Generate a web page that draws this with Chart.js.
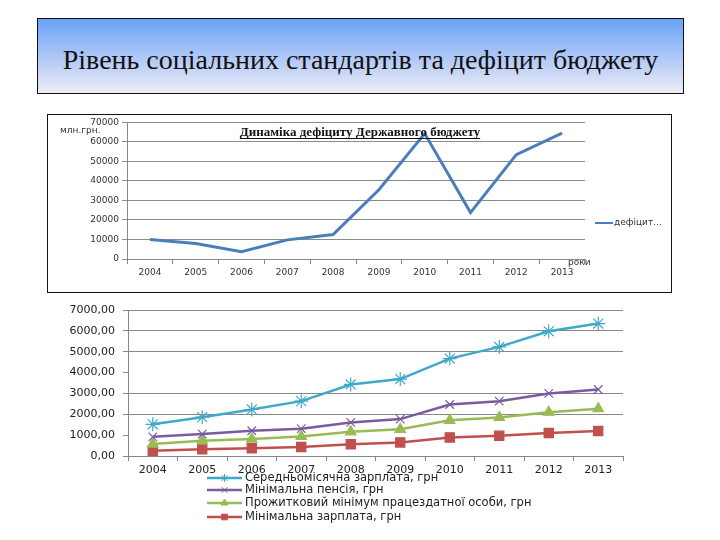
<!DOCTYPE html>
<html>
<head>
<meta charset="utf-8">
<script src="https://cdn.jsdelivr.net/npm/chart.js@4.4.1/dist/chart.umd.min.js"></script>
<style>
  body { margin: 0; width: 720px; height: 540px; background: #fff; position: relative; overflow: hidden; }
  #head {
    position: absolute; left: 37px; top: 18px; width: 647px; height: 76px; box-sizing: border-box;
    border: 1.5px solid #111; background: linear-gradient(#69a2f6, #efebf6);
    display: flex; align-items: center; justify-content: center; padding-top: 8px;
    font-family: "Liberation Serif", serif; font-size: 28px; color: #111;
  }
  #box1 { position: absolute; left: 47px; top: 114px; width: 625px; height: 179px; box-sizing: border-box; border: 1.5px solid #111; }
  #c1 { position: absolute; left: 47px; top: 114px; }
  #c2 { position: absolute; left: 30px; top: 295px; }
</style>
</head>
<body>
<div id="head">Рівень соціальних стандартів та дефіцит бюджету</div>
<div id="box1"></div>
<canvas id="c1" width="625" height="179"></canvas>
<canvas id="c2" width="640" height="245"></canvas>
<script>
const years = ["2004", "2005", "2006", "2007", "2008", "2009", "2010", "2011", "2012", "2013"];

// upper chart: deficit, mln UAH
const deficit = [10000, 7900, 3700, 9800, 12500, 35500, 64300, 23800, 53500, 64500];
const deficitLabel = "дефіцит...";
const chart1Title = "Динаміка дефіциту Державного бюджету";
const unitLabel = "млн.грн.";
const xUnitLabel = "роки";

// lower chart: social standards, UAH
const avgWage = [1520, 1860, 2230, 2630, 3430, 3690, 4670, 5230, 5980, 6350];
const minPension = [920, 1050, 1210, 1310, 1610, 1770, 2470, 2630, 3000, 3190];
const subsistence = [570, 730, 810, 940, 1160, 1280, 1710, 1850, 2100, 2270];
const minWage = [250, 320, 370, 430, 560, 650, 890, 970, 1100, 1200];
const seriesNames = [
  "Середньомісячна зарплата, грн",
  "Мінімальна пенсія, грн",
  "Прожитковий мінімум працездатної особи, грн",
  "Мінімальна зарплата, грн"
];

const c1 = document.getElementById("c1").getContext("2d");
const c2 = document.getElementById("c2").getContext("2d");

const deco1 = {
  id: "deco1",
  afterDraw(chart) {
    const ctx = chart.ctx;
    ctx.save();
    ctx.fillStyle = "#111";
    ctx.font = 'bold 13px "Liberation Serif"';
    ctx.textAlign = "center";
    ctx.textBaseline = "alphabetic";
    ctx.fillText(chart1Title, 313, 22);
    const w = ctx.measureText(chart1Title).width;
    ctx.fillRect(313 - w / 2, 24, w, 1);

    ctx.font = '9px "DejaVu Sans"';
    ctx.textAlign = "left";
    ctx.textBaseline = "middle";
    ctx.fillStyle = "#333";
    ctx.fillText(unitLabel, 13, 17);
    ctx.fillText(xUnitLabel, 521, 149);

    // legend
    const ds = chart.data.datasets[0];
    ctx.strokeStyle = ds.borderColor;
    ctx.lineWidth = 2;
    ctx.beginPath();
    ctx.moveTo(548, 109);
    ctx.lineTo(566, 109);
    ctx.stroke();
    ctx.fillText(ds.label, 567, 109);
    ctx.restore();
  }
};

new Chart(c1, {
  type: "line",
  data: {
    labels: years,
    datasets: [{
      label: deficitLabel,
      data: deficit,
      borderColor: "#4a7ebb",
      borderWidth: 3,
      pointRadius: 0,
      tension: 0
    }]
  },
  options: {
    responsive: false,
    animation: false,
    layout: { padding: { left: 0, right: 87, top: 8, bottom: 0 } },
    plugins: { legend: { display: false }, tooltip: { enabled: false } },
    scales: {
      x: {
        offset: true,
        afterFit: s => { s.height = 34; },
        grid: { offset: true, drawOnChartArea: false, tickLength: 5, color: "#888" },
        border: { color: "#888" },
        ticks: { color: "#333", font: { family: "DejaVu Sans", size: 9 }, padding: 3, maxRotation: 0 }
      },
      y: {
        min: 0, max: 70000,
        afterFit: s => { s.width = 80; },
        ticks: { stepSize: 10000, color: "#333", font: { family: "DejaVu Sans", size: 9 }, padding: 3, callback: v => String(v) },
        grid: { color: "#8a8a8a", tickLength: 5 },
        border: { color: "#888" }
      }
    }
  },
  plugins: [deco1]
});

const legend2 = {
  id: "legend2",
  afterDraw(chart) {
    const ctx = chart.ctx;
    const rows = [183, 195, 208, 222];
    ctx.save();
    chart.data.datasets.forEach((ds, i) => {
      const y = rows[i];
      ctx.strokeStyle = ds.borderColor;
      ctx.fillStyle = ds.borderColor;
      ctx.lineWidth = 2.5;
      ctx.beginPath();
      ctx.moveTo(177, y);
      ctx.lineTo(212, y);
      ctx.stroke();
      ctx.lineWidth = 1;
      Chart.helpers.drawPoint(ctx, { pointStyle: ds.pointStyle, radius: 4, rotation: 0, borderWidth: 1 }, 194.5, y);
      ctx.fillStyle = "#222";
      ctx.font = '11.5px "DejaVu Sans"';
      ctx.textAlign = "left";
      ctx.textBaseline = "middle";
      ctx.fillText(ds.label, 215, y);
    });
    ctx.restore();
  }
};

const mkSeries = (label, data, color, style, r) => ({
  label: label,
  data: data,
  borderColor: color,
  backgroundColor: color,
  pointBorderColor: color,
  pointBackgroundColor: color,
  pointStyle: style,
  pointRadius: r,
  pointBorderWidth: 1.2,
  borderWidth: 2.5,
  tension: 0
});

new Chart(c2, {
  type: "line",
  data: {
    labels: years,
    datasets: [
      mkSeries(seriesNames[0], avgWage, "#3fa9c9", "star", 7),
      mkSeries(seriesNames[1], minPension, "#7a5c9e", "crossRot", 6),
      mkSeries(seriesNames[2], subsistence, "#98bb55", "triangle", 6),
      mkSeries(seriesNames[3], minWage, "#c0504d", "rect", 6.5)
    ]
  },
  options: {
    responsive: false,
    animation: false,
    layout: { padding: { left: 0, right: 47, top: 15, bottom: 0 } },
    plugins: { legend: { display: false }, tooltip: { enabled: false } },
    scales: {
      x: {
        offset: true,
        afterFit: s => { s.height = 84; },
        grid: { offset: true, drawOnChartArea: false, tickLength: 5, color: "#888" },
        border: { color: "#888" },
        ticks: { color: "#222", font: { family: "DejaVu Sans", size: 11 }, padding: 3, maxRotation: 0 }
      },
      y: {
        min: 0, max: 7000,
        afterFit: s => { s.width = 98; },
        ticks: {
          stepSize: 1000, color: "#222", font: { family: "DejaVu Sans", size: 11 }, padding: 8,
          callback: v => v.toFixed(2).replace(".", ",")
        },
        grid: {
          tickLength: 5,
          tickColor: "#888",
          color: c => (c.tick && (c.tick.value === 4000 || c.tick.value === 1000)) ? "rgba(0,0,0,0)" : "#888"
        },
        border: { color: "#888" }
      }
    }
  },
  plugins: [legend2]
});
</script>
</body>
</html>
